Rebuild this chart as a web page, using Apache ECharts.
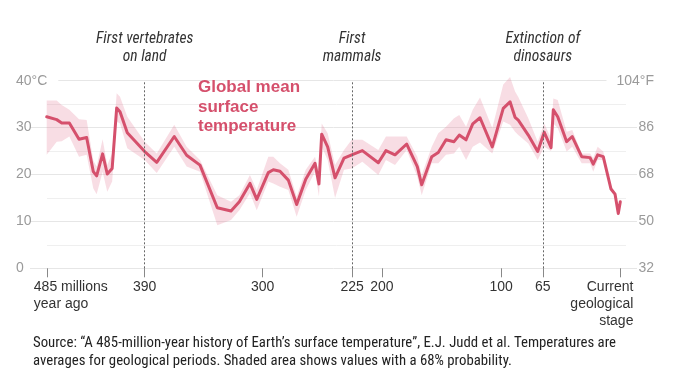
<!DOCTYPE html>
<html><head><meta charset="utf-8">
<script src="https://cdn.jsdelivr.net/npm/echarts@6/dist/echarts.min.js"></script>
<style>html,body{margin:0;padding:0;background:#fff}#c{width:693px;height:388px}</style>
</head><body><div id="c"></div>
<script>
// ---- data (millions of years ago, °C) ----
const ageMa = [481.2,472.8,468.6,462.2,454.1,447.7,442.1,439.3,434.3,430.4,
  426.3,422.5,419.7,413.6,399.0,388.9,374.2,363.8,352.6,338.1,
  326.6,319.6,310.7,305.0,295.3,291.1,285.5,278.5,271.5,263.9,
  256.1,252.8,250.5,245.5,239.3,231.8,225.3,216.4,203.0,196.6,
  189.0,179.2,170.3,166.6,158.2,152.7,146.2,139.5,135.1,129.4,
  123.8,117.7,107.4,98.2,92.5,88.3,85.6,77.2,69.3,63.8,
  58.1,56.2,52.5,45.0,40.3,32.4,25.4,22.7,19.0,14.3,
  7.8,4.4,1.7,0];
const tempC = [32.3,31.7,31.0,31.0,27.5,27.9,20.6,19.7,24.4,20.1,
  21.3,34.2,33.4,28.9,24.9,22.6,28.1,24.1,22.0,12.9,
  12.2,14.2,18.1,14.7,20.4,21.0,20.7,18.8,13.6,19.0,
  22.4,18.0,28.6,25.9,19.3,23.5,24.2,25.1,22.5,25.1,
  24.2,26.5,21.7,17.8,23.8,24.7,27.4,27.0,28.4,27.4,
  30.8,32.1,25.9,34.1,35.5,32.2,31.6,28.4,24.9,29.0,
  25.7,33.8,32.3,27.0,28.1,23.8,23.6,22.2,24.2,23.8,
  16.9,15.8,11.7,14.2];
const upperC = [35.8,35.8,34.8,33.8,31.8,31.6,23.0,21.7,27.5,22.0,
  24.5,37.3,36.6,32.3,27.0,24.5,30.6,25.9,23.1,15.6,
  14.2,15.6,19.9,16.7,23.8,23.8,22.4,21.0,15.3,21.0,
  23.8,20.3,30.9,28.8,22.0,25.2,27.4,27.4,25.2,28.1,
  28.1,28.1,23.8,19.9,25.9,28.8,30.2,32.0,32.7,30.2,
  33.8,36.4,29.9,39.2,40.8,37.7,36.5,32.0,27.0,30.9,
  27.7,36.2,35.9,29.1,29.5,24.5,24.5,23.5,25.9,24.9,
  17.4,16.3,12.2,14.7];
const lowerC = [24.2,27.0,27.1,28.1,23.8,24.2,17.0,15.8,20.6,16.3,
  18.5,31.3,30.9,25.6,23.1,20.3,25.9,21.7,20.6,9.2,
  10.3,12.4,16.0,12.4,18.5,18.1,17.4,16.7,11.0,16.7,
  20.6,15.3,25.9,23.1,15.0,21.0,21.3,22.7,19.9,23.1,
  22.0,25.2,19.5,15.6,22.4,22.4,24.2,24.5,25.9,23.1,
  25.9,26.8,24.5,31.3,30.6,29.1,28.4,26.6,23.1,25.9,
  25.0,30.9,29.9,24.9,25.9,22.4,22.4,20.6,23.1,23.1,
  16.4,15.3,11.2,13.7];

const tickAges = [0, 65, 100, 200, 225, 300, 399, 480.5];
const tickLabels = ['Current\ngeological\nstage','65','100','200','225','300','390','485 millions\nyear ago'];
const eventAges = [399, 225, 65];
const eventLabels = ['First vertebrates\non land', 'First\nmammals', 'Extinction of\ndinosaurs'];
const titleText = 'Global mean\nsurface\ntemperature';
const sourceText = 'Source: \u201cA 485-million-year history of Earth\u2019s surface temperature\u201d, E.J. Judd et al. Temperatures are\naverages for geological periods. Shaded area shows values with a 68% probability.';

// ---- layout ----
const PINK = '#d5506c';
const FONT = "'Liberation Sans', Arial, sans-serif";
const NARROW = "'Liberation Sans Narrow', 'Roboto Condensed', 'Liberation Sans', sans-serif";
const X_MIN = -11, X_MAX = 492;     // axis extent (Myr), inverted
const plotTop = 80.7, plotBottom = 268.3;
const pxPerMyr = 1.192, zeroX = 620.3;
const gridLeft = zeroX - pxPerMyr * X_MAX;
const gridRight = zeroX - pxPerMyr * X_MIN;

const labelAnchors = tickAges.map((a, i) => i === 0 ? X_MIN : (i === tickAges.length - 1 ? X_MAX : a));

const lineData = ageMa.map((a, i) => [a, tempC[i]]);
const bandData = ageMa.map((a, i) => [a, lowerC[i], upperC[i]]);

function renderBand(params, api) {
  if (params.dataIndex !== 0) return null;
  const top = [], bottom = [];
  for (let i = 0; i < bandData.length; i++) {
    top.push(api.coord([bandData[i][0], bandData[i][2]]));
    bottom.push(api.coord([bandData[i][0], bandData[i][1]]));
  }
  return {type: 'polygon', shape: {points: top.concat(bottom.reverse())},
          style: {fill: 'rgba(226,112,142,0.24)'}, silent: true};
}

const chart = echarts.init(document.getElementById('c'), null, {renderer: 'canvas'});
chart.setOption({
  animation: false,
  backgroundColor: '#fff',
  textStyle: {fontFamily: FONT},
  title: [
    {text: titleText, left: 198, top: 78, padding: 0,
     textStyle: {color: PINK, fontSize: 17, fontWeight: 'bold', lineHeight: 19.5, fontFamily: FONT}},
    {text: sourceText, left: 33, top: 334, padding: 0,
     textStyle: {color: '#222', fontSize: 14.8, fontWeight: 'normal', lineHeight: 18, fontFamily: NARROW}}
  ],
  grid: [
    {left: gridLeft, top: plotTop, width: gridRight - gridLeft, height: plotBottom - plotTop},
    {left: 30, right: 693 - 637, top: plotTop, height: plotBottom - plotTop},
    {left: 47, right: 693 - 626, top: plotTop + (plotBottom - plotTop) * 5 / 40, height: (plotBottom - plotTop) * 30 / 40}
  ],
  xAxis: [
    {gridIndex: 0, type: 'value', inverse: true, min: X_MIN, max: X_MAX,
     axisLine: {show: false}, splitLine: {show: false},
     axisTick: {show: true, customValues: tickAges, length: 9, lineStyle: {color: '#888', width: 1}},
     axisLabel: {show: true, customValues: labelAnchors, margin: 10, color: '#333', fontSize: 14, lineHeight: 17,
       fontFamily: FONT, alignMinLabel: 'right', alignMaxLabel: 'left',
       formatter: v => { const i = labelAnchors.indexOf(v); return i >= 0 ? tickLabels[i] : ''; }}},
    {gridIndex: 1, type: 'value', min: 0, max: 1, show: false},
    {gridIndex: 2, type: 'value', min: 0, max: 1, show: false}
  ],
  yAxis: [
    {gridIndex: 0, type: 'value', min: 0, max: 40, show: false},
    {gridIndex: 1, type: 'value', position: 'left', min: 0, max: 40, interval: 10,
     axisLine: {show: false}, axisTick: {show: false},
     splitLine: {show: true, lineStyle: {color: '#e6e6e6', width: 1}},
     axisLabel: {align: 'left', margin: 14, color: '#9a9a9a', fontSize: 14, fontFamily: FONT,
       formatter: v => v === 40 ? '{t|40\u00b0C}' : String(v),
       rich: {t: {backgroundColor: '#fff', padding: [3, 11, 3, 0], color: '#9a9a9a', fontSize: 14, fontFamily: FONT}}}},
    {gridIndex: 1, type: 'value', position: 'right', min: 32, max: 104, interval: 18,
     axisLine: {show: false}, axisTick: {show: false}, splitLine: {show: false},
     axisLabel: {align: 'right', margin: 17, color: '#9a9a9a', fontSize: 14, fontFamily: FONT,
       formatter: v => v === 104 ? '{t|104\u00b0F}' : String(v),
       rich: {t: {backgroundColor: '#fff', padding: [3, 0, 3, 10], color: '#9a9a9a', fontSize: 14, fontFamily: FONT}}}},
    {gridIndex: 2, type: 'value', min: 5, max: 35, interval: 10,
     axisLine: {show: false}, axisTick: {show: false}, axisLabel: {show: false},
     splitLine: {show: true, lineStyle: {color: '#efefef', width: 1}}}
  ],
  series: [
    {type: 'custom', name: 'band', xAxisIndex: 0, yAxisIndex: 0, data: bandData,
     renderItem: renderBand, silent: true, z: 1, clip: false,
     encode: {x: 0, y: [1, 2]}},
    {type: 'line', name: 'temp', xAxisIndex: 0, yAxisIndex: 0, data: lineData,
     symbol: 'none', lineStyle: {color: PINK, width: 3, cap: 'round', join: 'round'}, z: 3,
     markLine: {silent: true, symbol: ['none', 'none'], animation: false,
       lineStyle: {type: [2, 2], color: '#666', width: 1},
       label: {show: true, position: 'end', distance: 15, color: '#333', fontSize: 15.5, lineHeight: 18,
         fontStyle: 'italic', fontFamily: NARROW},
       data: eventAges.map((a, i) => ({xAxis: a, label: {formatter: eventLabels[i]}}))}}
  ]
});
</script></body></html>
